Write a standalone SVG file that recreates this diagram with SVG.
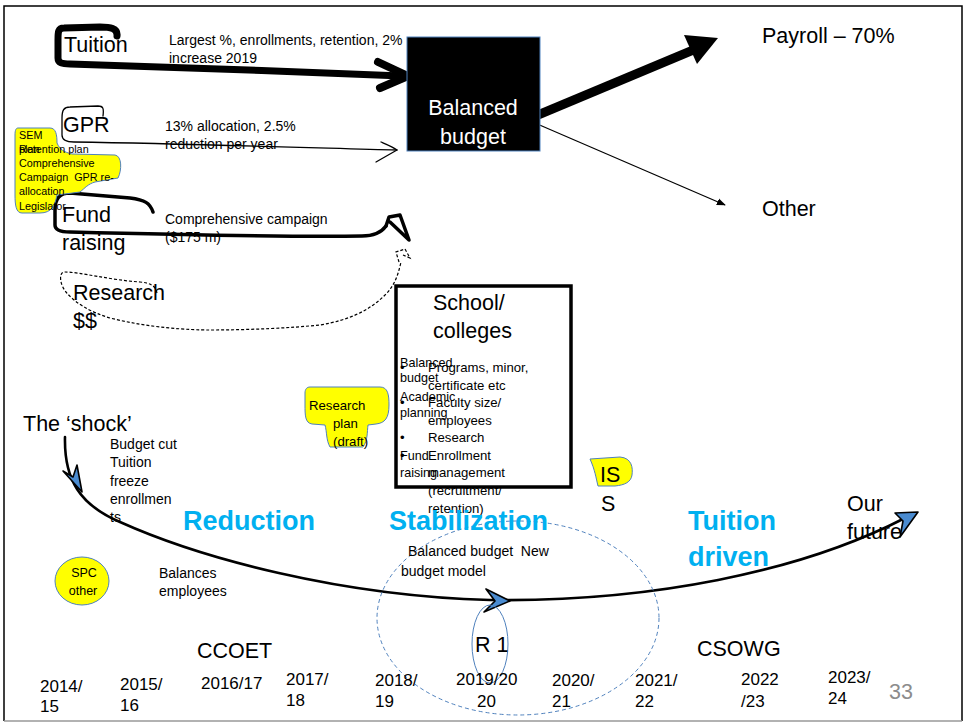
<svg xmlns="http://www.w3.org/2000/svg" width="965" height="725" viewBox="0 0 965 725">
  <style>
    text { font-family: "Liberation Sans", Arial, sans-serif; fill: #000; white-space: pre; }
    .big { font-size: 21.5px; }
    .sm { font-size: 14px; }
    .inner { font-size: 13.2px; }
    .note { font-size: 10.8px; }
    .yr { font-size: 17px; }
    .phase { font-size: 27px; font-weight: bold; fill: #00b0f0; }
    .hand { fill: none; stroke: #000; stroke-linecap: round; stroke-linejoin: round; }
    .dash { fill: none; stroke: #000; stroke-width: 1.2; stroke-dasharray: 3 2; }
    .kite { fill: #4a8bd0; stroke: #000; stroke-width: 1.6; stroke-linejoin: round; }
    .sticky { fill: #ffff00; stroke: #4f81bd; stroke-width: 1; }
  </style>
  <defs>
    <marker id="tip" viewBox="0 0 10 10" refX="9" refY="5" markerWidth="9" markerHeight="9" markerUnits="userSpaceOnUse" orient="auto">
      <path d="M0,1 L10,5 L0,9 Z" fill="#000"/>
    </marker>
  </defs>

  <!-- slide frame -->
  <rect x="0" y="0" width="965" height="725" fill="#fff"/>
  <path d="M4,721 L4,6 L962,6 L962,721" fill="none" stroke="#000" stroke-width="1.5"/>
  <path d="M4,721 L962,721" stroke="#999" stroke-width="1.5"/>

  <!-- connectors -->
  <g id="connectors">
    <!-- tuition: heavy stroke into the budget box -->
    <path class="hand" stroke-width="7" d="M117,36 C118,28 110,27 100,27 L64,28 C58,28 58,32 58,40 L58,58 C58,63 62,64 70,64 C150,66 300,72 402,76"/>
    <path class="hand" stroke-width="8" d="M378,62 L408,76 L380,88"/>
    <!-- GPR: thin stroke with open head -->
    <path class="hand" stroke-width="1.3" d="M103,116 C104,108 103,106 98,106 L70,107 C64,107 62,110 62,118 L62,135 C62,140 66,142 74,142 C200,144 320,148 397,150"/>
    <path class="hand" stroke-width="1.3" d="M381,142 C388,145 393,147 397,150 C390,154 383,158 376,162"/>
    <!-- fund raising -->
    <path class="hand" stroke-width="3.5" d="M153,212 C150,203 145,200 130,198 L70,193 C60,193 55,198 55,210 L55,225 C55,230 60,232 70,232 C150,234 300,237 362,236 C374,236 381,233 386,226"/>
    <path class="hand" stroke-width="3.5" d="M386,226 L389,217 L400,215 L409,240 L390,222"/>
    <!-- research dollars: dashed -->
    <path class="dash" d="M157,293 C155,285 150,283 140,282 C110,280 80,272 65,272 C58,272 60,285 66,292 C75,303 90,312 110,318 C150,328 190,330 210,330 C250,330 290,328 320,325 C350,320 370,310 385,295 C395,285 398,275 401,262"/>
    <path class="dash" d="M399,262 L396,252 L405,249 L410,258 L403,255"/>
    <!-- outputs of the budget -->
    <path d="M526,120 L698,48" stroke="#000" stroke-width="9" fill="none"/>
    <polygon points="718,38 684,35 697,64" fill="#000"/>
    <path d="M528,120 L725,205" stroke="#000" stroke-width="1.2" fill="none" marker-end="url(#tip)"/>
    <!-- timeline curve -->
    <path class="hand" stroke-width="2.6" d="M65,437 C64,480 80,505 120,522 C200,558 340,596 490,600 C650,602 800,572 905,518"/>
    <polygon class="kite" points="63,471 82,492 77,465 73,477"/>
    <polygon class="kite" points="486,589 510,601 484,612 495,601"/>
    <polygon class="kite" points="895,513 918,512 900,537 903,521"/>
  </g>

  <!-- stabilization period and reorganisation rings -->
  <g id="stabilization-ring">
    <ellipse cx="518" cy="618" rx="141" ry="97" fill="none" stroke="#4f81bd" stroke-width="1" stroke-dasharray="4 3"/>
  </g>
  <g id="r1">
    <ellipse cx="490" cy="644" rx="18" ry="39" fill="none" stroke="#4f81bd" stroke-width="1"/>
    <text class="big" x="475" y="652">R 1</text>
  </g>

  <g id="tuition">
    <text class="big" x="64" y="52">Tuition</text>
    <text class="sm" x="169" y="45">Largest %, enrollments, retention, 2%</text>
    <text class="sm" x="169" y="63">increase 2019</text>
  </g>

  <g id="gpr">
    <text class="big" x="63" y="132">GPR</text>
    <text class="sm" x="165" y="131">13% allocation, 2.5%</text>
    <text class="sm" x="165" y="149">reduction per year</text>
  </g>

  <g id="note-sem">
    <path class="sticky" d="M18,128 L50,128 C56,128 57,135 57,143 C60,150 64,152 72,154 L115,155 C122,156 122,170 118,178 L95,182 C88,184 85,188 80,192 L57,195 C55,205 52,213 40,213 L22,213 C16,213 15,205 15,195 L15,135 C15,130 16,128 18,128 Z"/>
    <text class="note" x="19" y="139">SEM</text>
    <text class="note" x="19" y="153">plan</text>
    <text class="note" x="19" y="153">Retention plan</text>
    <text class="note" x="19" y="167">Comprehensive</text>
    <text class="note" x="19" y="181">Campaign  GPR re-</text>
    <text class="note" x="19" y="195">allocation</text>
    <text class="note" x="19" y="210">Legislator</text>
  </g>

  <g id="fund-raising">
    <text class="big" x="62" y="222">Fund</text>
    <text class="big" x="62" y="250">raising</text>
    <text class="sm" x="165" y="224">Comprehensive campaign</text>
    <text class="sm" x="165" y="242">($175 m)</text>
  </g>

  <g id="research">
    <text class="big" x="73" y="300">Research</text>
    <text class="big" x="73" y="328">$$</text>
  </g>

  <g id="balanced-budget">
    <rect x="407" y="37" width="133" height="114" fill="#000" stroke="#4f81bd" stroke-width="1"/>
    <text class="big" x="473" y="115" text-anchor="middle" style="fill:#fff">Balanced</text>
    <text class="big" x="473" y="144" text-anchor="middle" style="fill:#fff">budget</text>
  </g>

  <g id="payroll">
    <text class="big" x="762" y="43">Payroll – 70%</text>
  </g>
  <g id="other">
    <text class="big" x="762" y="216">Other</text>
  </g>

  <g id="schools">
    <rect x="396" y="286" width="175" height="201" fill="none" stroke="#000" stroke-width="3.5"/>
    <text class="big" x="433" y="310">School/</text>
    <text class="big" x="433" y="338">colleges</text>
    <text class="inner" style="font-size:12.6px" x="400" y="367">Balanced</text>
    <text class="inner" style="font-size:12.6px" x="400" y="382">budget</text>
    <text class="inner" style="font-size:12.6px" x="400" y="401">Academic</text>
    <text class="inner" style="font-size:12.6px" x="400" y="417">planning</text>
    <text class="inner" style="font-size:12.6px" x="400" y="460">Fund</text>
    <text class="inner" style="font-size:12.6px" x="400" y="477">raising</text>
    <text class="inner" x="400" y="372">•</text>
    <text class="inner" x="400" y="407">•</text>
    <text class="inner" x="400" y="442">•</text>
    <text class="inner" x="400" y="460">•</text>
    <text class="inner" x="428" y="372">Programs, minor,</text>
    <text class="inner" x="428" y="390">certificate etc</text>
    <text class="inner" x="428" y="407">Faculty size/</text>
    <text class="inner" x="428" y="425">employees</text>
    <text class="inner" x="428" y="442">Research</text>
    <text class="inner" x="428" y="460">Enrollment</text>
    <text class="inner" x="428" y="477">management</text>
    <text class="inner" x="428" y="495">(recruitment/</text>
    <text class="inner" x="428" y="513">retention)</text>
  </g>

  <g id="research-plan">
    <path class="sticky" d="M310,387 L380,387 C388,387 389,395 389,405 C389,418 385,423 376,424 L368,425 C367,432 368,440 363,447 L330,447 C326,440 327,432 325,425 L312,424 C305,423 305,415 305,405 L305,393 C305,389 307,387 310,387 Z"/>
    <text class="inner" x="309" y="410">Research</text>
    <text class="inner" x="333" y="428">plan</text>
    <text class="inner" x="333" y="446">(draft)</text>
  </g>

  <g id="iss">
    <path class="sticky" d="M590,459 L620,457 C632,458 633,468 632,475 C631,482 625,485 615,486 L598,486 C596,478 595,470 590,459 Z"/>
    <text class="big" x="600" y="482">IS</text>
    <text class="big" x="601" y="511">S</text>
  </g>

  <g id="shock">
    <text class="big" x="23" y="431">The ‘shock’</text>
    <text class="sm" x="110" y="449">Budget cut</text>
    <text class="sm" x="110" y="467">Tuition</text>
    <text class="sm" x="110" y="486">freeze</text>
    <text class="sm" x="110" y="504">enrollmen</text>
    <text class="sm" x="110" y="522">ts</text>
  </g>

  <g id="phases">
    <text class="phase" x="183" y="530">Reduction</text>
    <text class="phase" x="389" y="530">Stabilization</text>
    <text class="phase" x="688" y="530">Tuition</text>
    <text class="phase" x="688" y="566">driven</text>
  </g>

  <g id="stabilization-notes">
    <text class="sm" x="408" y="556">Balanced budget  New</text>
    <text class="sm" x="401" y="576">budget model</text>
  </g>

  <g id="future">
    <text class="big" x="847" y="511">Our</text>
    <text class="big" x="847" y="539">future</text>
  </g>

  <g id="spc">
    <ellipse cx="82" cy="581" rx="27" ry="24" fill="#ffff00" stroke="#4f81bd" stroke-width="1"/>
    <text style="font-size:12.5px" x="84" y="577" text-anchor="middle">SPC</text>
    <text style="font-size:12.5px" x="83" y="595" text-anchor="middle">other</text>
  </g>

  <g id="balances">
    <text class="sm" x="159" y="578">Balances</text>
    <text class="sm" x="159" y="596">employees</text>
  </g>

  <g id="groups">
    <text class="big" x="197" y="658">CCOET</text>
    <text class="big" x="697" y="656">CSOWG</text>
  </g>

  <g id="years">
    <text class="yr" x="40" y="692">2014/</text>
    <text class="yr" x="40" y="712">15</text>
    <text class="yr" x="120" y="690">2015/</text>
    <text class="yr" x="120" y="711">16</text>
    <text class="yr" x="201" y="689">2016/17</text>
    <text class="yr" x="286" y="685">2017/</text>
    <text class="yr" x="286" y="706">18</text>
    <text class="yr" x="375" y="686">2018/</text>
    <text class="yr" x="375" y="707">19</text>
    <text class="yr" x="456" y="685">2019/20</text>
    <text class="yr" x="477" y="707">20</text>
    <text class="yr" x="552" y="686">2020/</text>
    <text class="yr" x="552" y="707">21</text>
    <text class="yr" x="635" y="686">2021/</text>
    <text class="yr" x="635" y="707">22</text>
    <text class="yr" x="741" y="685">2022</text>
    <text class="yr" x="741" y="707">/23</text>
    <text class="yr" x="828" y="683">2023/</text>
    <text class="yr" x="828" y="704">24</text>
    <text class="big" x="889" y="699" style="fill:#8c8c8c">33</text>
  </g>
</svg>
